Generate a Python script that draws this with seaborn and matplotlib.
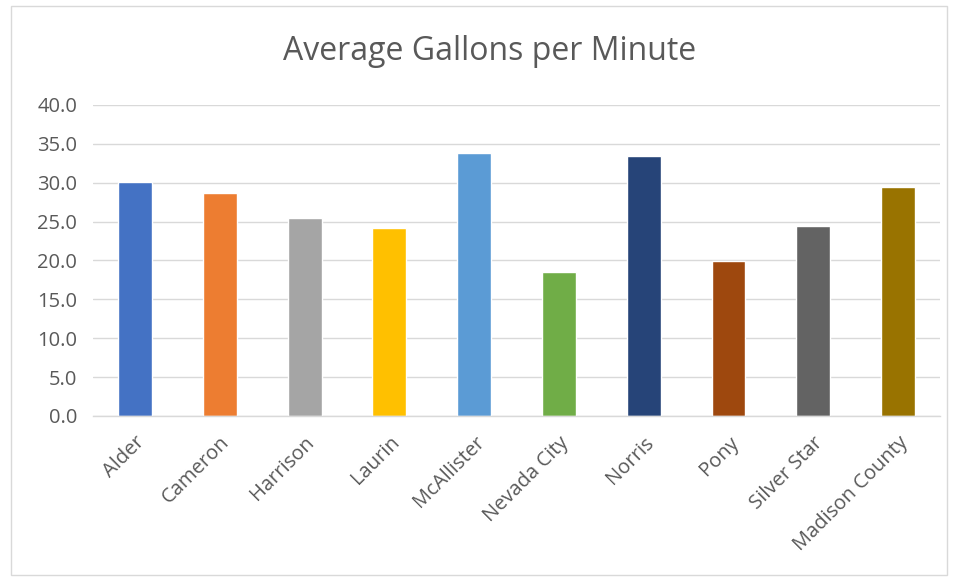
import matplotlib
matplotlib.use("Agg")
import matplotlib.pyplot as plt
import seaborn as sns
import pandas as pd
from matplotlib.patches import Rectangle

# Average flow per site
sites = ["Alder", "Cameron", "Harrison", "Laurin", "McAllister",
         "Nevada City", "Norris", "Pony", "Silver Star", "Madison County"]
gpm = [30.1, 28.7, 25.5, 24.2, 33.8, 18.5, 33.4, 19.9, 24.4, 29.5]
bar_colors = ["#4472C4", "#ED7D31", "#A5A5A5", "#FFC000", "#5B9BD5",
              "#70AD47", "#264478", "#9E480E", "#636363", "#997300"]
y_ticks = [0, 5, 10, 15, 20, 25, 30, 35, 40]

sns.set_theme(style="white")
plt.rcParams["font.family"] = ["Open Sans", "DejaVu Sans"]

df = pd.DataFrame({"site": sites, "gpm": gpm})

fig = plt.figure(figsize=(9.56, 5.8), dpi=100)
ax = fig.add_axes([0.0969, 0.2828, 0.8868, 0.5362])

sns.barplot(data=df, x="site", y="gpm", hue="site", palette=bar_colors,
            width=0.4, legend=False, ax=ax, saturation=1)

ax.set_ylim(0, 40)
ax.set_xlim(-0.5, len(sites) - 0.5)
ax.set_yticks(y_ticks)
ax.set_yticklabels([f"{v:.1f}" for v in y_ticks])
ax.yaxis.grid(True, color="#D9D9D9", linewidth=1)
ax.set_axisbelow(True)
for side in ["top", "right", "left"]:
    ax.spines[side].set_visible(False)
ax.spines["bottom"].set_color("#D9D9D9")
ax.spines["bottom"].set_linewidth(1)

ax.tick_params(axis="y", length=0, pad=11, labelsize=14.5, labelcolor="#595959")
ax.tick_params(axis="x", length=0, pad=12, labelsize=14.5, labelcolor="#595959")
for lbl in ax.get_xticklabels():
    lbl.set_rotation(45)
    lbl.set_ha("right")
    lbl.set_rotation_mode("anchor")

ax.set_xlabel("")
ax.set_ylabel("")

fig.text(0.512, 0.912, "Average Gallons per Minute", ha="center", va="center",
         fontsize=23, color="#595959")

# thin chart-area border
fig.patches.append(Rectangle((0.011, 0.008), 0.98, 0.982, transform=fig.transFigure,
                             fill=False, edgecolor="#D9D9D9", linewidth=1))

fig.savefig("out.png", dpi=100)
